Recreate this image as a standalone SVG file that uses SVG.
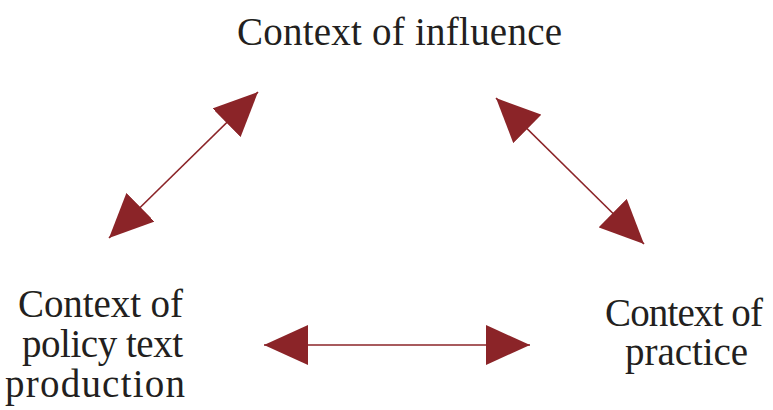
<svg xmlns="http://www.w3.org/2000/svg" width="773" height="410" viewBox="0 0 773 410">
  <style>
    .label { font-family: 'Liberation Serif', 'Times New Roman', serif; font-size: 39px; fill: #231f20; }
    .conn { stroke: #8b2428; stroke-width: 1.6; fill: none; }
  </style>
  <defs>
    <marker id="head" viewBox="0 0 44 40" refX="44" refY="20" markerWidth="44" markerHeight="40" markerUnits="userSpaceOnUse" orient="auto-start-reverse">
      <path d="M0,0 L44,20 L0,40 z" fill="#8b2428"/>
    </marker>
  </defs>
  <rect width="773" height="410" fill="#ffffff"/>
  <g id="node-influence">
    <text class="label" x="237" y="45" textLength="325" lengthAdjust="spacing">Context of influence</text>
  </g>
  <g id="node-policy">
    <text class="label" x="18" y="317" textLength="165" lengthAdjust="spacing">Context of</text>
    <text class="label" x="22" y="357" textLength="161" lengthAdjust="spacing">policy text</text>
    <text class="label" x="5" y="397" textLength="180" lengthAdjust="spacing">production</text>
  </g>
  <g id="node-practice">
    <text class="label" x="605" y="326" textLength="158" lengthAdjust="spacing">Context of</text>
    <text class="label" x="625" y="365" textLength="123" lengthAdjust="spacing">practice</text>
  </g>
  <g id="connectors">
    <line class="conn" x1="109" y1="238" x2="258" y2="92" marker-start="url(#head)" marker-end="url(#head)"/>
    <line class="conn" x1="496" y1="98" x2="644" y2="244" marker-start="url(#head)" marker-end="url(#head)"/>
    <line class="conn" x1="264" y1="345" x2="530" y2="345" marker-start="url(#head)" marker-end="url(#head)"/>
  </g>
</svg>
